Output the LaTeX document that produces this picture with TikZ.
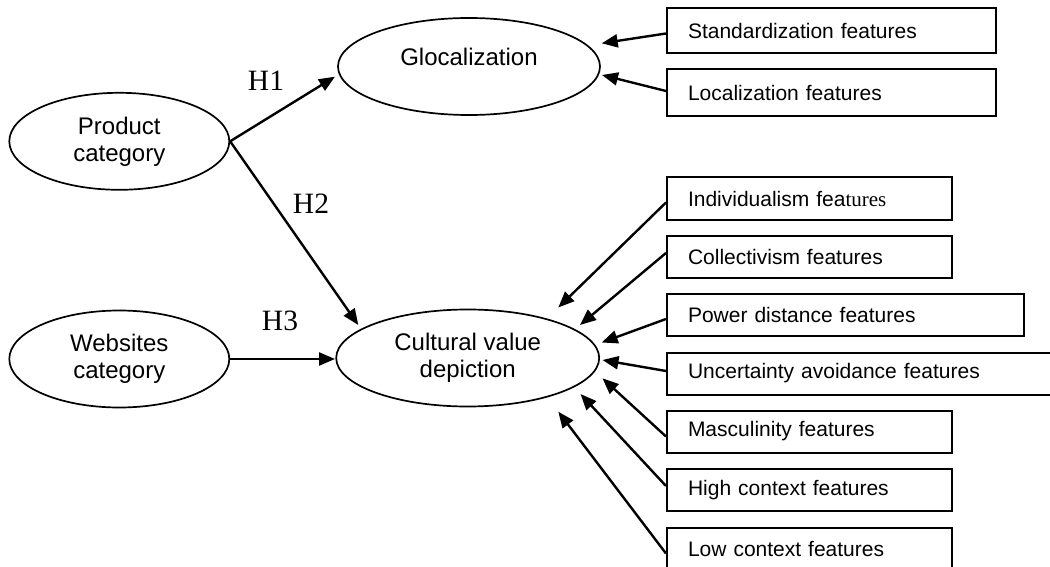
\documentclass[tikz,border=0pt]{standalone}
\usepackage{fontspec}
\setmainfont{Liberation Sans}
\newfontfamily\hfont{Liberation Serif}
\usetikzlibrary{shapes.geometric,arrows.meta}
\begin{document}
\begin{tikzpicture}[x=1pt,y=-1pt,
  oval/.style={ellipse,draw,line width=1.7pt,inner sep=0pt,align=center,
    font=\fontsize{24}{27}\selectfont},
  fbox/.style={rectangle,draw,line width=2pt,anchor=north west,inner xsep=21pt,
    inner ysep=0pt,align=left,minimum height=42pt,font=\fontsize{21}{25}\selectfont},
  hyp/.style={font=\hfont\fontsize{29.5}{32}\selectfont,inner sep=0pt},
  arr/.style={line width=2.4pt,-{Triangle[length=16pt,width=13pt]}}]
\useasboundingbox (0,0) rectangle (1050,567);
\clip (0,0) rectangle (1050,567);

% ellipses
\node[oval,minimum width=220pt,minimum height=97pt] (pc) at (119.3,141.3) {Product\\category};
\node[oval,minimum width=262pt,minimum height=97pt,text depth=20pt] (glo) at (469,66.5) {Glocalization};
\node[oval,minimum width=220pt,minimum height=97pt] (wc) at (119.3,359) {Websites\\category};
\node[oval,minimum width=263pt,minimum height=97pt] (cvd) at (467.7,358) {Cultural value\\depiction};

% feature boxes
\node[fbox,text width=287pt,minimum height=45pt] (std) at (666,7) {Standardization features};
\node[fbox,text width=287pt,minimum height=47pt] (loc) at (666,68) {Localization features};
\node[fbox,text width=243pt] (ind) at (666,176.5) {Individualism fea{\hfont tures}};
\node[fbox,text width=243pt] (col) at (666,235) {Collectivism features};
\node[fbox,text width=315pt] (pow) at (666,293) {Power distance features};
\node[fbox,text width=372pt] (unc) at (666,351.5) {Uncertainty avoidance features};
\node[fbox,text width=243pt] (mas) at (666,409.5) {Masculinity features};
\node[fbox,text width=243pt] (hig) at (666,468) {High context features};
\node[fbox,text width=243pt] (low) at (666,527) {Low context features};

% arrow tips (free ends)
\coordinate (tH1) at (335,76.7);
\coordinate (tH2) at (358.3,325);
\coordinate (tH3) at (335,359);
\coordinate (tstd) at (601.7,43.3);
\coordinate (tloc) at (602,75);
\coordinate (tind) at (558.3,307.5);
\coordinate (tcol) at (580,325);
\coordinate (tpow) at (601.7,342.5);
\coordinate (tunc) at (602.5,360);
\coordinate (tmas) at (602.5,378.3);
\coordinate (thig) at (580.5,394);
\coordinate (tlow) at (558.3,411.7);

% hypotheses
\draw[arr] (pc.east) -- (tH1);
\draw[arr] (pc.east) -- (tH2);
\draw[arr] (wc.east) -- (tH3);
\node[hyp] (h1) at (266,81) {H1};
\node[hyp] (h2) at (311,204) {H2};
\node[hyp] (h3) at (280,321) {H3};

% feature arrows
\draw[arr] ([yshift=-3pt]std.west) -- (tstd);
\draw[arr] ([yshift=1.5pt]loc.west) -- (tloc);
\draw[arr] ([yshift=-4pt]ind.west) -- (tind);
\draw[arr] ([yshift=4pt]col.west) -- (tcol);
\draw[arr] ([yshift=-4pt]pow.west) -- (tpow);
\draw[arr] ([yshift=2.5pt]unc.west) -- (tunc);
\draw[arr] ([yshift=-5pt]mas.west) -- (tmas);
\draw[arr] ([yshift=4pt]hig.west) -- (thig);
\draw[arr] ([yshift=-4.5pt]low.west) -- (tlow);
\end{tikzpicture}
\end{document}
